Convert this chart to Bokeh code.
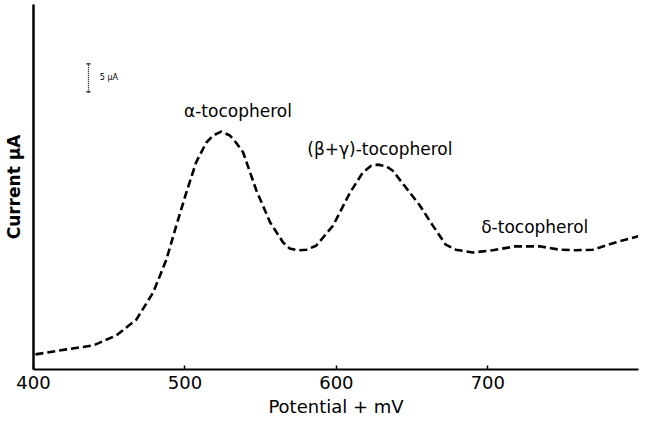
from bokeh.plotting import figure
from bokeh.models import FixedTicker, Range1d
from bokeh.core.properties import value
from bokeh.embed import file_html
from bokeh.resources import INLINE

# Voltammogram (potential in mV, current in uA)
potential_mv = [401.3, 421.8, 439.6, 454.7, 467.9, 479.1, 487.7, 494.3, 500.9, 507.4,
                514.0, 518.7, 523.9, 529.7, 533.8, 538.4, 547.0, 556.2, 564.8, 569.2,
                574.7, 580.2, 586.6, 597.8, 609.0, 617.5, 623.0, 627.4, 632.9, 637.3,
                645.9, 655.1, 663.7, 672.2, 678.8, 690.0, 703.2, 718.4, 734.2, 747.4,
                757.9, 769.2, 784.3, 799.3]
current_ua = [2.7, 3.6, 4.3, 6.1, 8.9, 13.8, 19.6, 25.7, 31.6, 37.0,
              40.5, 41.8, 42.5, 41.8, 40.5, 38.8, 32.1, 26.3, 22.7, 21.6,
              21.3, 21.4, 22.1, 25.7, 31.6, 35.2, 36.4, 36.6, 36.3, 35.5,
              32.5, 29.3, 25.7, 22.3, 21.4, 20.9, 21.3, 22.0, 22.0, 21.4,
              21.3, 21.4, 22.7, 23.8]

x_ticks = [400, 500, 600, 700]

peak_names = ["\u03b1-tocopherol", "(\u03b2+\u03b3)-tocopherol", "\u03b4-tocopherol"]
peak_label_x = [535.0, 628.7, 731.0]
peak_label_y = [46.2, 39.3, 25.5]

scale_bar_ua = 5.0
scale_bar_x = 436.3
scale_bar_y0 = 49.6
scale_bar_text = "5 \u00b5A"

FONT = "DejaVu Sans"

p = figure(width=639, height=420, output_backend="svg", toolbar_location=None,
           x_range=Range1d(400, 799.5), y_range=Range1d(0, 65.2),
           min_border_left=32, min_border_right=1, min_border_top=4, min_border_bottom=51)
p.background_fill_color = "white"
p.border_fill_color = "white"
p.outline_line_color = None
p.grid.visible = False

# x axis
xa = p.xaxis[0]
xa.ticker = FixedTicker(ticks=x_ticks)
xa.axis_label = "Potential + mV"
xa.axis_label_text_font = FONT
xa.axis_label_text_font_size = "18px"
xa.axis_label_text_font_style = "normal"
xa.axis_label_text_color = "black"
xa.axis_label_standoff = 4
xa.major_label_text_font = FONT
xa.major_label_text_font_size = "18px"
xa.major_label_text_color = "black"
xa.major_label_standoff = 6
xa.axis_line_width = 2
xa.axis_line_color = "black"
xa.major_tick_in = 4
xa.major_tick_out = 0
xa.major_tick_line_width = 1.5
xa.major_tick_line_color = "black"
xa.minor_tick_line_color = None

# y axis
ya = p.yaxis[0]
ya.ticker = FixedTicker(ticks=[])
ya.axis_label = "Current \u00b5A"
ya.axis_label_text_font = FONT
ya.axis_label_text_font_size = "17px"
ya.axis_label_text_font_style = "bold"
ya.axis_label_text_color = "black"
ya.axis_label_standoff = 10
ya.major_label_text_font_size = "0px"
ya.axis_line_width = 2.5
ya.axis_line_color = "black"
ya.major_tick_line_color = None
ya.minor_tick_line_color = None

# curve
p.line(potential_mv, current_ua, line_color="black", line_width=2.6, line_dash="8 4",
       line_join="round")

# peak labels
p.text(x=peak_label_x, y=peak_label_y, text=peak_names, text_font=value(FONT),
       text_font_size="17px", text_align="center", text_baseline="middle", text_color="black")

# 5 uA scale bar
p.segment(x0=[scale_bar_x], y0=[scale_bar_y0], x1=[scale_bar_x], y1=[scale_bar_y0 + scale_bar_ua],
          line_color="black", line_width=1.2, line_dash="1 1")
p.segment(x0=[scale_bar_x - 1.3, scale_bar_x - 1.3], y0=[scale_bar_y0, scale_bar_y0 + scale_bar_ua],
          x1=[scale_bar_x + 1.3, scale_bar_x + 1.3], y1=[scale_bar_y0, scale_bar_y0 + scale_bar_ua],
          line_color="black", line_width=1.2)
p.text(x=[scale_bar_x + 7.5], y=[scale_bar_y0 + scale_bar_ua / 2], text=[scale_bar_text],
       text_font=value(FONT), text_font_size="8px", text_align="left", text_baseline="middle",
       text_color="black")

open("out.html", "w").write(file_html(p, INLINE))
